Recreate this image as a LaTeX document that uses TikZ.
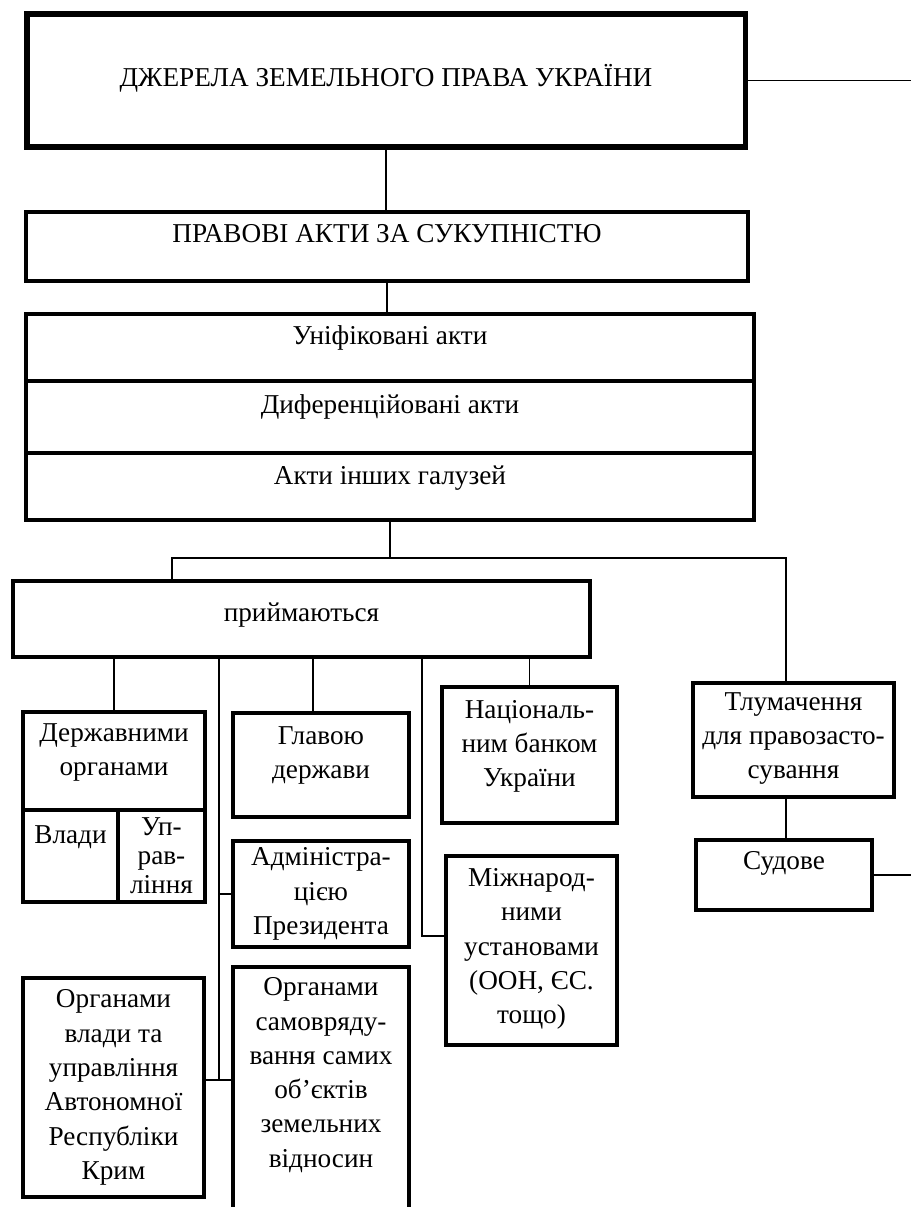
\documentclass[tikz,border=0pt]{standalone}
\usepackage{fontspec}
\setmainfont{Liberation Serif}
\usetikzlibrary{calc}

\begin{document}
\begin{tikzpicture}[x=0.02cm, y=-0.02cm,
    every node/.style={font=\fontsize{15.5}{19.5}\selectfont, align=center, inner sep=0pt},
    cell/.style 2 args={draw, line width=1.9pt, minimum width=#1*0.02cm, minimum height=#2*0.02cm},
    lift/.code={\pgfmathsetlengthmacro\liftdp{(2*#1+5)*0.02cm}\edef\x{\noexpand\tikzset{text depth=\liftdp}}\x},
    link/.style={line width=1.1pt}]
  % Page: one unit = one pixel of the scan, y runs downward.
  \useasboundingbox (0,0) rectangle (910,1207);
  % Head of the chart
  \node[cell={718}{133}, line width=2.85pt, lift=3] (dzherela) at (386,80.5) {ДЖЕРЕЛА ЗЕМЕЛЬНОГО ПРАВА УКРАЇНИ};
  \node[cell={722}{69}, lift=11] (pravovi) at (387,246.5) {ПРАВОВІ АКТИ ЗА СУКУПНІСТЮ};
  % Stack of three kinds of acts
  \node[cell={728}{67}, lift=10] (unif) at (390,347.5) {Уніфіковані акти};
  \node[cell={728}{72}, lift=10] (dyfer) at (390,417) {Диференційовані акти};
  \node[cell={728}{67}, lift=9] (inshi) at (390,486.5) {Акти інших галузей};
  % Second level
  \node[cell={577}{76}, lift=4] (pryim) at (301.5,619) {приймаються};
  \node[cell={201}{114}, lift=2] (tlum) at (793.5,740) {Тлумачення\\для правозасто-\\сування};
  \node[cell={176}{70}, lift=12] (sudove) at (784,875) {Судове};
  % Who adopts the acts
  \node[cell={182}{98}, lift=9] (derzh) at (114,761) {Державними\\органами};
  \node[cell={95}{92}, lift=19] (vlady) at (70.5,856) {Влади};
  \node[cell={87}{92}, font=\fontsize{15.5}{16.5}\selectfont] (upravl) at (161.5,856) {Уп-\\рав-\\ління};
  \node[cell={176}{104}, lift=10] (glava) at (321,765) {Главою\\держави};
  \node[cell={176}{106}] (admin) at (321,894) {Адміністра-\\цією\\Президента};
  \node[cell={181}{219}] (krym) at (113.5,1087.5) {Органами\\влади та\\управління\\Автономної\\Республіки\\Крим};
  \node[cell={176}{268}, lift=26] (samovr) at (321,1101) {Органами\\самовряду-\\вання самих\\об’єктів\\земельних\\відносин};
  \node[cell={175}{136}, lift=9] (natsbank) at (529.5,755) {Національ-\\ним банком\\України};
  \node[cell={171}{189}, lift=2] (mizhnar) at (531.5,950.5) {Міжнарод-\\ними\\установами\\(ООН, ЄС.\\тощо)};
  % Helper points for the bent lines
  \coordinate (forkL) at (172,558);
  \coordinate (forkR) at (786,558);
  \coordinate (trunk) at (219,1080);
  \coordinate (hook) at (422,936);
  \coordinate (edge) at (914,80.5);
  % Lines of the upper part
  \draw[link] (dzherela.south) -- (dzherela.south |- pravovi.north);
  \draw[link] (pravovi.south) -- (pravovi.south |- unif.north);
  \draw[link] (inshi.south) -- (inshi.south |- forkL);
  \draw[link] (pryim.north -| forkL) -- (forkL) -- (forkR) -- (forkR |- tlum.north);
  \draw[link] (forkR |- tlum.south) -- (forkR |- sudove.north);
  \draw[link] (dzherela.east) -- (dzherela.east -| edge) -- (edge |- sudove.east) -- (sudove.east);
  % Lines below "приймаються"
  \draw[link] (derzh.north) -- (derzh.north |- pryim.south);
  \draw[link] ([xshift=-0.16cm]glava.north) -- ([xshift=-0.16cm]glava.north |- pryim.south);
  \draw[link] (natsbank.north) -- (natsbank.north |- pryim.south);
  \draw[link] (pryim.south -| trunk) -- (trunk);
  \draw[link] (admin.west) -- (admin.west -| trunk);
  \draw[link] (krym.east |- trunk) -- (samovr.west |- trunk);
  \draw[link] (pryim.south -| hook) -- (hook) -- (hook -| mizhnar.west);
\end{tikzpicture}
\end{document}
